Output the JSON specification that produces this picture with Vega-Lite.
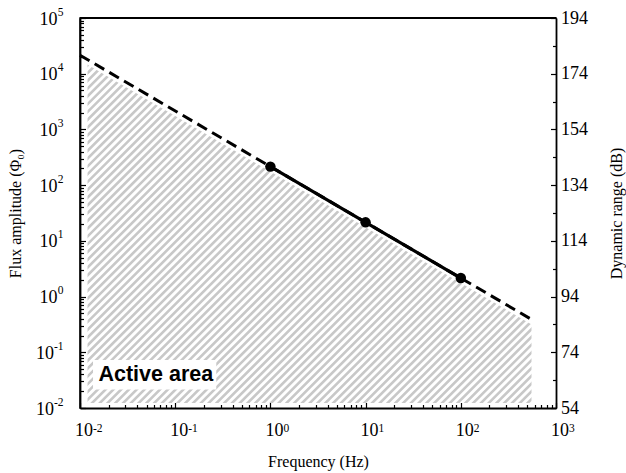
{
  "$schema": "https://vega.github.io/schema/vega-lite/v6.json",
  "width": 476,
  "height": 390,
  "autosize": {"type": "none"},
  "padding": {"left": 80, "top": 18, "right": 70, "bottom": 65},
  "background": "white",
  "config": {
    "view": {"stroke": "black", "strokeWidth": 1.5},
    "axis": {
      "labelFont": "Liberation Serif",
      "titleFont": "Liberation Serif",
      "labelFontSize": 18,
      "titleFontSize": 16,
      "titleFontWeight": "normal",
      "labelColor": "black",
      "titleColor": "black",
      "domainColor": "black",
      "domainWidth": 1.8,
      "tickColor": "black",
      "tickWidth": 1.2,
      "grid": false,
      "labelOverlap": false,
      "labelFlush": false
    }
  },
  "datasets": {
    "hatch": [
      {"f": 0.0001987, "flux": 478000000},
      {"f": 50300, "flux": 0.00000209}
    ],
    "maskTop": [
      {"f": 0.01, "lo": 17500, "hi": 100000},
      {"f": 1000, "lo": 0.175, "hi": 100000}
    ],
    "maskRects": [
      {"x1": 0.01, "x2": 0.012, "y1": 0.01, "y2": 100000},
      {"x1": 553, "x2": 1000, "y1": 0.01, "y2": 100000},
      {"x1": 0.01, "x2": 1000, "y1": 0.01, "y2": 0.0123},
      {"x1": 0.0137, "x2": 0.27, "y1": 0.0215, "y2": 0.0727}
    ],
    "label": [
      {"f": 0.0626, "flux": 0.0388, "text": "Active area"}
    ],
    "dashed": [
      {"f": 0.01, "flux": 21500},
      {"f": 553, "flux": 0.389}
    ],
    "solid": [
      {"f": 1, "flux": 215},
      {"f": 10, "flux": 21.5},
      {"f": 100, "flux": 2.15}
    ],
    "fRange": [
      {"f": 0.01},
      {"f": 1000}
    ],
    "fluxRange": [
      {"flux": 0.01},
      {"flux": 100000}
    ],
    "dbRange": [
      {"dB": 54},
      {"dB": 194}
    ]
  },
  "layer": [
    {
      "layer": [
        {
          "data": {"name": "hatch"},
          "mark": {"type": "line", "strokeWidth": 800, "strokeDash": [2.6, 2.9], "color": "#c8c8c8", "clip": true, "strokeCap": "butt"},
          "encoding": {
            "x": {
              "field": "f", "type": "quantitative",
              "scale": {"type": "log", "domain": [0.01, 1000], "nice": false},
              "axis": {
                "orient": "bottom",
                "title": "Frequency (Hz)",
                "titlePadding": 12,
                "zindex": 2,
                "labelFont": "Liberation Serif",
                "labelFontSize": 18,
                "labelBaseline": "top",
                "labelOffset": 3.5,
                "values": [0.01,0.02,0.03,0.04,0.05,0.06,0.07,0.08,0.09,0.1,0.2,0.3,0.4,0.5,0.6,0.7,0.8,0.9,1,2,3,4,5,6,7,8,9,10,20,30,40,50,60,70,80,90,100,200,300,400,500,600,700,800,900,1000],
                "labelExpr": "abs(log(datum.value)/LN10 - round(log(datum.value)/LN10)) < 1e-6 ? '10' : ''",
                "tickSize": {"condition": {"test": "abs(log(datum.value)/LN10 - round(log(datum.value)/LN10)) < 1e-6", "value": -5.5}, "value": -3.5},
                "labelPadding": 18.5
              }
            },
            "y": {
              "field": "flux", "type": "quantitative",
              "scale": {"type": "log", "domain": [0.01, 100000], "nice": false},
              "axis": {
                "title": "Flux amplitude (Φ₀)",
                "titlePadding": 12,
                "zindex": 2,
                "labelFont": "Liberation Serif",
                "labelFontSize": 18,
                "labelOffset": 1,
                "orient": "left",
                "values": [0.01,0.02,0.03,0.04,0.05,0.06,0.07,0.08,0.09,0.1,0.2,0.3,0.4,0.5,0.6,0.7,0.8,0.9,1,2,3,4,5,6,7,8,9,10,20,30,40,50,60,70,80,90,100,200,300,400,500,600,700,800,900,1000,2000,3000,4000,5000,6000,7000,8000,9000,10000,20000,30000,40000,50000,60000,70000,80000,90000,100000],
                "labelExpr": "abs(log(datum.value)/LN10 - round(log(datum.value)/LN10)) < 1e-6 ? '10' : ''",
                "tickSize": {"condition": {"test": "abs(log(datum.value)/LN10 - round(log(datum.value)/LN10)) < 1e-6", "value": -5.5}, "value": -3.5},
                "labelPadding": {"condition": {"test": "datum.value < 0.5", "value": 32}, "value": 28.5}
              }
            }
          }
        },
        {
          "data": {"name": "maskTop"},
          "mark": {"type": "area", "color": "white", "opacity": 1},
          "encoding": {
            "x": {"field": "f", "type": "quantitative"},
            "y": {"field": "lo", "type": "quantitative"},
            "y2": {"field": "hi"}
          }
        },
        {
          "data": {"name": "maskRects"},
          "mark": {"type": "rect", "color": "white", "opacity": 1},
          "encoding": {
            "x": {"field": "x1", "type": "quantitative"},
            "x2": {"field": "x2"},
            "y": {"field": "y1", "type": "quantitative"},
            "y2": {"field": "y2"}
          }
        },
        {
          "data": {"name": "label"},
          "mark": {"type": "text", "font": "Liberation Sans", "fontWeight": "bold", "fontSize": 21.5, "color": "black", "align": "center", "baseline": "middle"},
          "encoding": {
            "x": {"field": "f", "type": "quantitative"},
            "y": {"field": "flux", "type": "quantitative"},
            "text": {"field": "text"}
          }
        },
        {
          "data": {"name": "dashed"},
          "mark": {"type": "line", "color": "black", "strokeWidth": 3, "strokeDash": [11, 6]},
          "encoding": {
            "x": {"field": "f", "type": "quantitative"},
            "y": {"field": "flux", "type": "quantitative"}
          }
        },
        {
          "data": {"name": "solid"},
          "mark": {"type": "line", "color": "black", "strokeWidth": 3.2},
          "encoding": {
            "x": {"field": "f", "type": "quantitative"},
            "y": {"field": "flux", "type": "quantitative"}
          }
        },
        {
          "data": {"name": "solid"},
          "mark": {"type": "point", "filled": true, "color": "black", "opacity": 1, "size": 110},
          "encoding": {
            "x": {"field": "f", "type": "quantitative"},
            "y": {"field": "flux", "type": "quantitative"}
          }
        },
        {
          "data": {"values": [{"top": 100000}]},
          "mark": {"type": "rule", "color": "black", "strokeWidth": 1.8},
          "encoding": {
            "y": {"field": "top", "type": "quantitative"}
          }
        }
      ]
    },
    {
      "data": {"name": "fRange"},
      "mark": {"type": "point", "opacity": 0},
      "encoding": {
        "x": {
          "field": "f", "type": "quantitative",
          "scale": {"type": "log", "domain": [0.01, 1000], "nice": false},
          "axis": {
            "orient": "bottom",
            "title": null,
            "zindex": 2,
            "domain": false,
            "ticks": false,
            "labelFont": "Liberation Serif",
            "labelFontSize": 11.5,
            "labelAlign": "left",
            "labelBaseline": "top",
            "labelOffset": 12.5,
            "labelPadding": 14.5,
            "values": [0.01, 0.1, 1, 10, 100, 1000],
            "labelExpr": "round(log(datum.value)/LN10) < 0 ? '-' + abs(round(log(datum.value)/LN10)) : '' + round(log(datum.value)/LN10)"
          }
        }
      }
    },
    {
      "data": {"name": "fluxRange"},
      "mark": {"type": "point", "opacity": 0},
      "encoding": {
        "y": {
          "field": "flux", "type": "quantitative",
          "scale": {"type": "log", "domain": [0.01, 100000], "nice": false},
          "axis": {
            "orient": "left",
            "title": null,
            "zindex": 2,
            "domain": false,
            "ticks": false,
            "labelFont": "Liberation Serif",
            "labelFontSize": 11.5,
            "labelAlign": "right",
            "labelOffset": -6,
            "labelPadding": 17,
            "values": [0.01, 0.1, 1, 10, 100, 1000, 10000, 100000],
            "labelExpr": "round(log(datum.value)/LN10) < 0 ? '-' + abs(round(log(datum.value)/LN10)) : '' + round(log(datum.value)/LN10)"
          }
        }
      }
    },
    {
      "data": {"name": "dbRange"},
      "mark": {"type": "point", "opacity": 0},
      "encoding": {
        "y": {
          "field": "dB", "type": "quantitative",
          "scale": {"domain": [54, 194], "nice": false, "zero": false},
          "axis": {
            "orient": "right",
            "title": "Dynamic range (dB)",
            "titleAngle": 270,
            "titlePadding": 37,
            "zindex": 2,
            "labelFont": "Liberation Serif",
            "labelFontSize": 18,
            "values": [54,64,74,84,94,104,114,124,134,144,154,164,174,184,194],
            "labelExpr": "(datum.value - 54) % 20 == 0 ? datum.label : ''",
            "tickSize": {"condition": {"test": "(datum.value - 54) % 20 == 0", "value": -5.5}, "value": -3.5},
            "labelPadding": 10
          }
        }
      }
    }
  ],
  "resolve": {"scale": {"x": "independent", "y": "independent"}, "axis": {"x": "independent", "y": "independent"}}
}
